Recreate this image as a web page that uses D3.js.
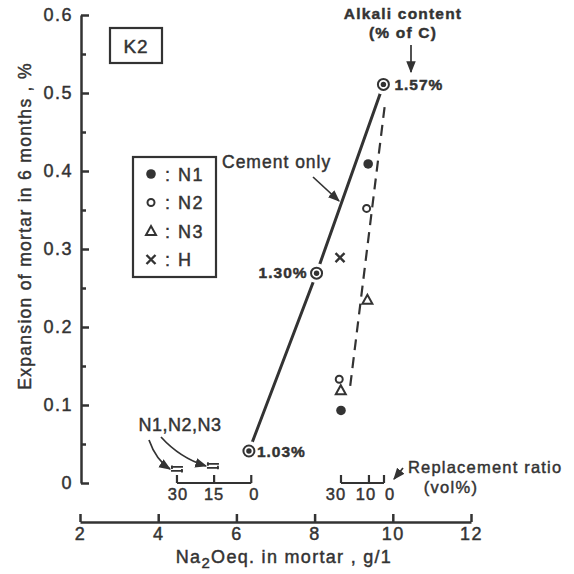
<!DOCTYPE html>
<html><head><meta charset="utf-8">
<script src="https://cdn.jsdelivr.net/npm/d3@7"></script>
<style>
html,body{margin:0;padding:0;background:#fff;}
svg text{font-family:"Liberation Sans",Arial,sans-serif;fill:#333;stroke:#333;stroke-width:0.45px;}
</style></head>
<body>
<svg id="c" width="574" height="574"></svg>
<script>
// ---- data ----
const xTicks = [2,4,6,8,10,12];
const yTicks = [0,0.1,0.2,0.3,0.4,0.5,0.6];
const yMinorTicks = [0.05,0.15,0.25,0.35,0.45,0.55];
const cementOnly = [
  {na:6.32, exp:0.041, label:"1.03%"},
  {na:8.05, exp:0.269, label:"1.30%"},
  {na:9.76, exp:0.511, label:"1.57%"}
];
const n1 = [{na:9.37, exp:0.409},{na:8.675, exp:0.093}];
const n2 = [{na:9.33, exp:0.352},{na:8.63, exp:0.133}];
const n3 = [{na:9.35, exp:0.235},{na:8.67, exp:0.119}];
const hSeries = [{na:8.65, exp:0.289}];
const dashedFit = [{na:9.79, exp:0.482},{na:8.905, exp:0.122}];
const aloneN = [{na:4.48, exp:0.018},{na:5.40, exp:0.022}];
const replLeft = [{na:4.48, r:"30"},{na:5.43, r:"15"},{na:6.38, r:"0"}];
const replRight = [{na:8.675, r:"30"},{na:9.39, r:"10"},{na:9.775, r:"0"}];
const legendItems = [{sym:"n1", name:"N1"},{sym:"n2", name:"N2"},{sym:"n3", name:"N3"},{sym:"h", name:"H"}];

// ---- scales ----
const x = d3.scaleLinear([2,12],[80,471]);
const y = d3.scaleLinear([0,0.6],[483,15]);
const ink = "#333";
const svg = d3.select("#c");

// y axis
const yAx = svg.append("g").attr("transform","translate(81,0)")
  .call(d3.axisLeft(y).tickValues(yTicks).tickSizeInner(-8).tickSizeOuter(0).tickPadding(8)
    .tickFormat(d => d===0 ? "0" : d3.format(".1f")(d)));
yAx.selectAll("text").style("font-size","18px").attr("letter-spacing","1.5");
svg.append("g").attr("transform","translate(81,0)")
  .call(d3.axisLeft(y).tickValues(yMinorTicks).tickSizeInner(-5).tickSizeOuter(0).tickFormat(""))
  .select(".domain").remove();

// x axis
const xAx = svg.append("g").attr("transform","translate(0,522)")
  .call(d3.axisBottom(x).tickValues(xTicks).tickSizeInner(-8).tickSizeOuter(0).tickPadding(5));
xAx.selectAll("text").style("font-size","18px").attr("letter-spacing","1.5");
svg.selectAll(".domain, .tick line").attr("stroke",ink).attr("stroke-width",2.5);
svg.selectAll(".tick text").attr("fill",ink);

// axis labels
const xl = svg.append("text").attr("x",284).attr("y",563).attr("text-anchor","middle")
  .style("font-size","18px").attr("letter-spacing","1.3");
xl.append("tspan").text("Na");
xl.append("tspan").attr("dy",5).style("font-size","15px").text("2");
xl.append("tspan").attr("dy",-5).text("Oeq. in mortar , g/1");
svg.append("text").attr("transform","translate(31,226) rotate(-90)").attr("text-anchor","middle")
  .style("font-size","17.5px").attr("letter-spacing","1.3")
  .text("Expansion of mortar in 6 months , %");

// K2 box
svg.append("rect").attr("x",110).attr("y",28).attr("width",52).attr("height",35)
  .attr("fill","none").attr("stroke",ink).attr("stroke-width",2.2);
svg.append("text").attr("x",136).attr("y",53).attr("text-anchor","middle")
  .style("font-size","19px").attr("letter-spacing","1").text("K2");

// dashed fit line
svg.append("path").datum(dashedFit)
  .attr("d", d3.line().x(d=>x(d.na)).y(d=>y(d.exp)))
  .attr("stroke",ink).attr("stroke-width",2.2).attr("stroke-dasharray","11,7").attr("fill","none");

// cement-only line
svg.append("path").datum(cementOnly)
  .attr("d", d3.line().x(d=>x(d.na)).y(d=>y(d.exp)))
  .attr("stroke",ink).attr("stroke-width",3).attr("fill","none");

// cement-only markers (double circles)
const co = svg.selectAll(".co").data(cementOnly).join("g")
  .attr("transform", d=>`translate(${x(d.na)},${y(d.exp)})`);
co.append("circle").attr("r",10).attr("fill","#fff");
co.append("circle").attr("r",5.5).attr("fill","#fff").attr("stroke",ink).attr("stroke-width",2);
co.append("circle").attr("r",2.7).attr("fill",ink);
const labelOff = {"1.03%":[8,6,"start"],"1.30%":[-9,5,"end"],"1.57%":[11,6,"start"]};
svg.selectAll(".col").data(cementOnly).join("text")
  .attr("x", d=>x(d.na)+labelOff[d.label][0]).attr("y", d=>y(d.exp)+labelOff[d.label][1])
  .attr("text-anchor", d=>labelOff[d.label][2])
  .style("font-size","15.5px").style("font-weight","bold").attr("letter-spacing","1")
  .text(d=>d.label);

// symbol drawing helpers
function drawSym(g, sym){
  if(sym==="n1") g.append("circle").attr("r",4.8).attr("fill",ink);
  else if(sym==="n2") g.append("circle").attr("r",3.5).attr("fill","#fff").attr("stroke",ink).attr("stroke-width",2);
  else if(sym==="n3") g.append("path").attr("d","M0,-5L5,4L-5,4Z").attr("fill","#fff").attr("stroke",ink).attr("stroke-width",2);
  else if(sym==="h") g.append("path").attr("d","M-4.5,-4.5L4.5,4.5M-4.5,4.5L4.5,-4.5").attr("stroke",ink).attr("stroke-width",2.4);
}
[[n1,"n1"],[n2,"n2"],[n3,"n3"],[hSeries,"h"]].forEach(([arr,sym])=>{
  svg.append("g").selectAll("g").data(arr).join("g")
    .attr("transform", d=>`translate(${x(d.na)},${y(d.exp)})`)
    .each(function(){ drawSym(d3.select(this), sym); });
});

// overlapped N1,N2,N3 alone markers
svg.append("g").selectAll("path").data(aloneN).join("path")
  .attr("transform", d=>`translate(${x(d.na)},${y(d.exp)})`)
  .attr("d","M-6,-2H6M-6,2H6M-5,-3.5V0M5,0V3.5").attr("stroke",ink).attr("stroke-width",1.8).attr("fill","none");

// legend
svg.append("rect").attr("x",133).attr("y",157).attr("width",83).attr("height",120)
  .attr("fill","#fff").attr("stroke",ink).attr("stroke-width",2.2);
const lg = svg.append("g").selectAll("g").data(legendItems).join("g")
  .attr("transform",(d,i)=>`translate(151,${174+i*28.5})`);
lg.each(function(d){ drawSym(d3.select(this), d.sym); });
lg.append("text").attr("x",14).attr("y",6.5).style("font-size","18px").attr("letter-spacing","1.5")
  .text(d=>": "+d.name);

// Cement only annotation
svg.append("text").attr("x",222).attr("y",168).style("font-size","17.5px").attr("letter-spacing","1")
  .text("Cement only");
const defs = svg.append("defs");
defs.append("marker").attr("id","ah").attr("viewBox","0 0 10 10").attr("refX",9).attr("refY",5)
  .attr("markerWidth",7).attr("markerHeight",7).attr("orient","auto-start-reverse")
  .append("path").attr("d","M0,1L10,5L0,9Z").attr("fill",ink);
function arrow(d){
  svg.append("path").attr("d",d).attr("fill","none").attr("stroke",ink).attr("stroke-width",1.7)
    .attr("marker-end","url(#ah)");
}
arrow("M313,177L339,201");

// Alkali content annotation
svg.append("text").attr("x",403).attr("y",19).attr("text-anchor","middle")
  .style("font-size","15.5px").style("font-weight","bold").attr("letter-spacing","1.2").text("Alkali content");
svg.append("text").attr("x",403).attr("y",38).attr("text-anchor","middle")
  .style("font-size","15.5px").style("font-weight","bold").attr("letter-spacing","1.2").text("(% of C)");
arrow("M411,45L411,72");

// N1,N2,N3 annotation
svg.append("text").attr("x",180).attr("y",431).attr("text-anchor","middle")
  .style("font-size","18px").attr("letter-spacing","0.5").text("N1,N2,N3");
arrow("M149,440Q156,460 170,469");
arrow("M161,437Q180,458 206,466");

// replacement ratio scales
function replScale(arr, offsets){
  const g = svg.append("g");
  const yb = y(0);
  g.append("line").attr("x1",x(arr[0].na)).attr("x2",x(arr[arr.length-1].na))
    .attr("y1",yb).attr("y2",yb).attr("stroke",ink).attr("stroke-width",2.2);
  g.selectAll("line.t").data(arr).join("line").attr("class","t")
    .attr("x1",d=>x(d.na)).attr("x2",d=>x(d.na)).attr("y1",yb).attr("y2",yb-8)
    .attr("stroke",ink).attr("stroke-width",2.2);
  g.selectAll("text").data(arr).join("text")
    .attr("x",(d,i)=>x(d.na)+offsets[i]).attr("y",yb+17).attr("text-anchor","middle")
    .style("font-size","16.5px").attr("letter-spacing","1").text(d=>d.r);
}
replScale(replLeft,[1,0,3]);
replScale(replRight,[-5,-3,6]);

svg.append("text").attr("x",408).attr("y",473).style("font-size","16.5px").attr("letter-spacing","1.2")
  .text("Replacement ratio");
svg.append("text").attr("x",451).attr("y",493).attr("text-anchor","middle")
  .style("font-size","16.5px").attr("letter-spacing","1.3").text("(vol%)");
arrow("M403,468L394,479");
</script>
</body></html>
